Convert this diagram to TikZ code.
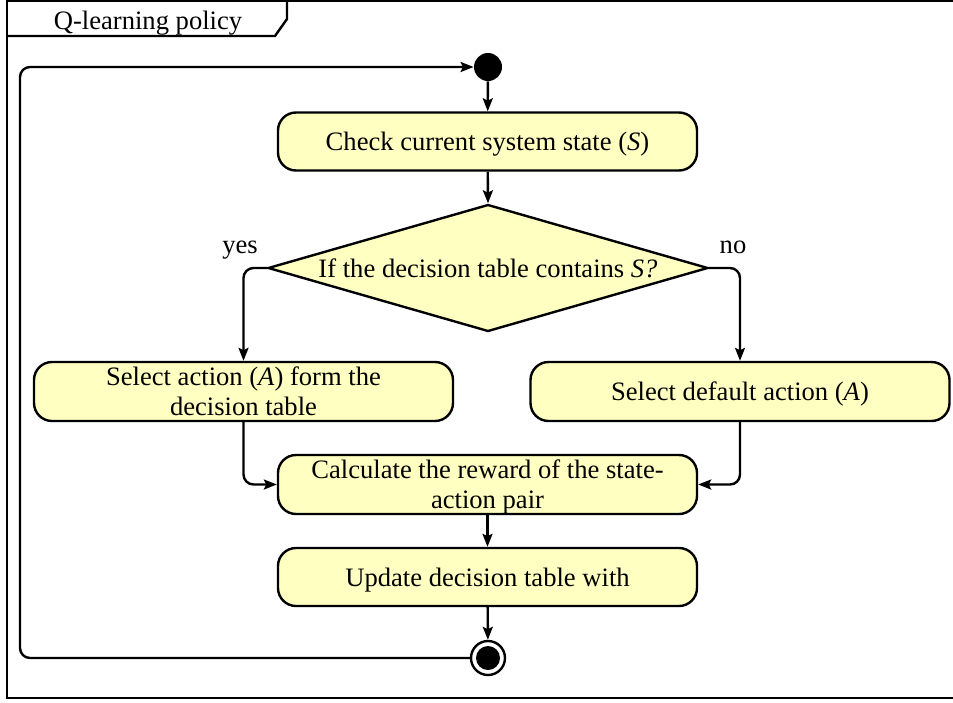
\documentclass[tikz,border=0pt]{standalone}
\usepackage{fontspec}
\setmainfont{Liberation Serif}
\usetikzlibrary{shapes.geometric,arrows.meta}
\definecolor{actfill}{RGB}{255,255,194}
\tikzset{
  px/.style={x=0.5pt,y=-0.5pt},
  actbox/.style={draw, fill=actfill, line width=1.2pt, rounded corners=9pt,
    minimum width=209.5pt, minimum height=29pt, align=center, inner sep=2pt,
    text depth=0pt, font=\fontsize{13.3}{15}\selectfont},
  decision/.style={draw, fill=actfill, line width=1.2pt, diamond, inner sep=0pt,
    minimum width=220pt, minimum height=63.5pt},
  lbl/.style={font=\fontsize{13.3}{15}\selectfont, inner sep=0pt},
  startnode/.style={circle, fill=black, minimum size=14pt, inner sep=0pt},
  endnode/.style={circle, draw, line width=1.2pt, fill=white, minimum size=17pt, inner sep=0pt,
    path picture={\fill[black] (path picture bounding box.center) circle (6pt);}},
  flow/.style={line width=1.2pt, rounded corners=5pt, -{Stealth[length=6.5pt,width=5pt,inset=1.2pt]}},
  frame/.style={line width=1.2pt}
}
\begin{document}
\begin{tikzpicture}[px]
\useasboundingbox (0,0) rectangle (953,702);
\fill[white] (0,0) rectangle (953,702);

% enclosing activity frame with title tab
\draw[frame] (953,1) -- (7,1) -- (7,698) -- (953,698);
\draw[frame] (7,36) -- (275,36) -- (287,19) -- (287,1);
\node[lbl, anchor=base] (title) at (148,29) {Q-learning policy};

% nodes
\node[startnode] (start) at (488,67) {};
\node[actbox] (check) at (487.5,141.5) {Check current system state (\textit{S})};
\node[decision] (dec) at (488,268) {};
\node[lbl, text depth=0pt] (dectext) at (dec.center) {If the decision table contains \textit{S?}};
\node[actbox, minimum height=29.5pt] (selA) at (243.5,391.5) {Select action (\textit{A}) form the\\decision table};
\node[actbox, minimum height=29.5pt] (selD) at (740,391.5) {Select default action (\textit{A})};
\node[actbox, minimum height=29.5pt] (calc) at (487.5,484.5) {Calculate the reward of the state-\\action pair};
\node[actbox] (upd) at (487.5,577) {Update decision table with};
\node[endnode] (final) at (488,658) {};

\node[lbl, anchor=base] (yes) at (240,253) {yes};
\node[lbl, anchor=base] (no) at (733,253) {no};

% connectors
\draw[flow] (start) -- (check);
\draw[flow] (check) -- (dec.north);
\draw[flow] (dec.west) -| (selA.north);
\draw[flow] (dec.east) -| (selD.north);
\draw[flow] (selA.south) |- (calc.west);
\draw[flow] (selD.south) |- (calc.east);
\draw[flow] (calc) -- (upd);
\draw[flow] (upd) -- (final);
\coordinate (loopbl) at (20,658);
\coordinate (looptl) at (20,67);
\draw[flow] (final.west) -- (loopbl) -- (looptl) -- (start.west);
\end{tikzpicture}
\end{document}
